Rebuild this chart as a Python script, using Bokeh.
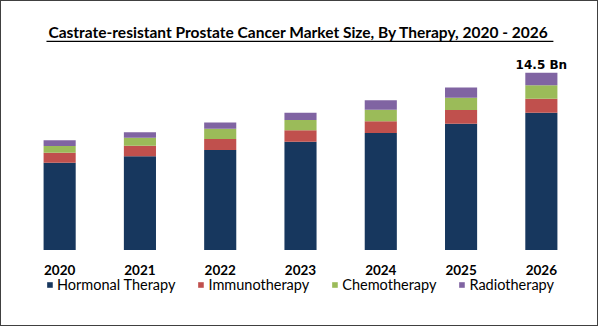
from bokeh.plotting import figure
from bokeh.layouts import column
from bokeh.models import Legend, LegendItem, ColumnDataSource, Range1d, Span
from bokeh.core.properties import value
from bokeh.embed import file_html
from bokeh.resources import INLINE

years = ["2020", "2021", "2022", "2023", "2024", "2025", "2026"]
hormonal = [7.16, 7.68, 8.20, 8.87, 9.58, 10.34, 11.24]
immuno = [0.82, 0.86, 0.90, 0.93, 0.95, 1.12, 1.14]
chemo = [0.55, 0.65, 0.82, 0.84, 0.95, 1.00, 1.09]
radio = [0.46, 0.46, 0.51, 0.60, 0.77, 0.82, 1.03]
series = ["Hormonal Therapy", "Immunotherapy", "Chemotherapy", "Radiotherapy"]
colors = ["#17375E", "#C0504D", "#9BBB59", "#8064A2"]
title_text = "Castrate-resistant  Prostate Cancer Market Size, By Therapy, 2020 - 2026"
FONT = "Lato"
BORDER = "1px solid #404040"

src = ColumnDataSource(dict(year=years, h=hormonal, i=immuno, c=chemo, r=radio))

# ---- main chart (bars) ----
p = figure(x_range=years, width=598, height=250, output_backend="svg",
           toolbar_location=None, min_border_left=18, min_border_right=18,
           min_border_top=0, min_border_bottom=0)
p.styles = {"border-top": BORDER, "border-left": BORDER, "border-right": BORDER}
p.y_range = Range1d(-0.08, 20.3)
p.x_range.range_padding = 0
p.xaxis.visible = False
p.yaxis.visible = False
p.xgrid.visible = False
p.ygrid.visible = False
p.outline_line_color = None

rs = p.vbar_stack(["h", "i", "c", "r"], x="year", width=0.4, color=colors,
                  line_color=None, source=src)
p.add_layout(Span(location=0, dimension="width", line_color="#D9D9D9", line_width=1))

totals = [a + b + c + d for a, b, c, d in zip(hormonal, immuno, chemo, radio)]
p.text(x=[years[-1]], y=[totals[-1]], text=[f"{totals[-1]:.1f} Bn"],
       text_font=value("DejaVu Sans"), text_font_style="bold", text_font_size="12px",
       text_align="center", text_baseline="bottom", y_offset=-1, text_color="#000000")

# title with underline
p.text(x=[3.5], y=[17.12], text=[title_text], text_font=value(FONT),
       text_font_style="bold", text_font_size="15.5px",
       text_align="center", text_baseline="bottom", text_color="#000000")
p.segment(x0=[0.336], x1=[6.65], y0=[17.05], y1=[17.05], line_color="#000000", line_width=1.2)

# ---- lower strip: year axis + legend ----
p2 = figure(x_range=p.x_range, y_range=Range1d(0, 1), width=598, height=76,
            output_backend="svg", toolbar_location=None, x_axis_location="above",
            min_border_left=18, min_border_right=18, min_border_top=24, min_border_bottom=0)
p2.styles = {"border-bottom": BORDER, "border-left": BORDER, "border-right": BORDER}
p2.yaxis.visible = False
p2.xgrid.visible = False
p2.ygrid.visible = False
p2.outline_line_color = None
p2.xaxis.axis_line_color = None
p2.xaxis.major_tick_line_color = None
p2.xaxis.minor_tick_line_color = None
p2.xaxis.major_label_text_font = FONT
p2.xaxis.major_label_text_font_style = "bold"
p2.xaxis.major_label_text_font_size = "13.5px"
p2.xaxis.major_label_text_color = "#000000"
p2.xaxis.major_label_standoff = -6

# legend swatches (kept below the visible strip)
dummies = [p2.vbar(x=[years[0]], bottom=[-2], top=[-1], width=0.4, color=c, line_color=None)
           for c in colors]
legend = Legend(items=[LegendItem(label=s, renderers=[r]) for s, r in zip(series, dummies)],
                orientation="horizontal", location="top_center",
                label_text_font=FONT, label_text_font_size="14.5px", label_text_color="#000000",
                glyph_width=7, glyph_height=7, label_standoff=4, spacing=22, padding=0,
                margin=2, border_line_color=None, background_fill_alpha=0)
p2.add_layout(legend, "center")

layout = column(p, p2, spacing=0)
open("out.html", "w").write(file_html(layout, INLINE))
